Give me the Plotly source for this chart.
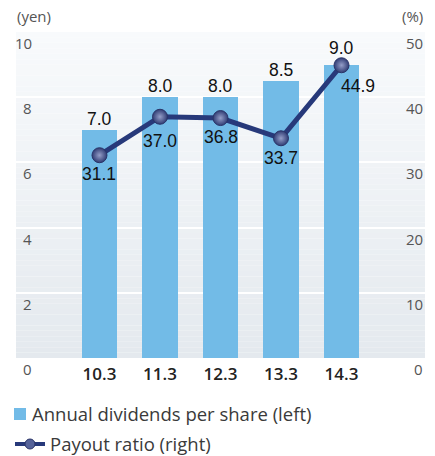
import plotly.graph_objects as go

# ---- data ----
categories = ["10.3", "11.3", "12.3", "13.3", "14.3"]
dividends = [7.0, 8.0, 8.0, 8.5, 9.0]          # yen (left axis)
payout = [31.1, 37.0, 36.8, 33.7, 44.9]        # % (right axis)
left_ticks = [0, 2, 4, 6, 8, 10]
right_ticks = [0, 10, 20, 30, 40, 50]
left_title = "(yen)"
right_title = "(%)"
legend_bar = "Annual dividends per share (left)"
legend_line = "Payout ratio (right)"

# ---- style ----
W, H = 435, 456
ML, MR, MT, MB = 16, 10, 32, 98
PW, PH = W - ML - MR, H - MT - MB
BAR_COLOR = "#72bbe7"
LINE_COLOR = "#27397a"
AXIS_FONT = dict(family="Open Sans", size=15, color="#555555")
LABEL_FONT = dict(family="Liberation Sans", size=17.5, color="#111111")

bar_label_dy = [11, 11, 11, 11, 17]
line_label_dy = [-19, -24, -19, -20, -21]
line_label_dx = [0, 0, 0, 0, 16]


def px_x(px):
    return (px - ML) / PW


def px_y(py):
    return (H - MB - py) / PH


fig = go.Figure()
fig.add_trace(go.Bar(
    x=categories, y=dividends, marker=dict(color=BAR_COLOR, line=dict(width=0)),
    width=0.58, yaxis="y", showlegend=False, hoverinfo="skip",
))
fig.add_trace(go.Scatter(
    x=categories, y=payout, yaxis="y2", mode="lines+markers",
    line=dict(color=LINE_COLOR, width=5),
    marker=dict(size=15, color="#303c74",
                gradient=dict(type="radial", color="#959ec8"),
                line=dict(color="#2a3468", width=1)),
    showlegend=False, hoverinfo="skip",
))

annotations = []
# data labels (x given as category index)
for i, (v, dy) in enumerate(zip(dividends, bar_label_dy)):
    annotations.append(dict(x=i, y=v, xref="x", yref="y", text=f"{v:.1f}",
                            showarrow=False, yanchor="middle", yshift=dy,
                            font=LABEL_FONT))
for i, (v, dy, dx) in enumerate(zip(payout, line_label_dy, line_label_dx)):
    annotations.append(dict(x=i, y=v, xref="x", yref="y2", text=f"{v:.1f}",
                            showarrow=False, yanchor="middle", yshift=dy,
                            xshift=dx, font=LABEL_FONT))
# axis tick labels (drawn inside the panel, below each gridline)
for t in left_ticks:
    annotations.append(dict(x=px_x(34), y=t, xref="paper", yref="y", text=str(t),
                            showarrow=False, xanchor="right", yanchor="middle",
                            yshift=-11, font=AXIS_FONT))
for t in right_ticks:
    annotations.append(dict(x=px_x(425), y=t, xref="paper", yref="y2", text=str(t),
                            showarrow=False, xanchor="right", yanchor="middle",
                            yshift=-11, font=AXIS_FONT))
annotations.append(dict(x=px_x(15), y=px_y(16), xref="paper", yref="paper",
                        text=left_title, showarrow=False, xanchor="left",
                        yanchor="middle", font=AXIS_FONT))
annotations.append(dict(x=px_x(425), y=px_y(16), xref="paper", yref="paper",
                        text=right_title, showarrow=False, xanchor="right",
                        yanchor="middle", font=AXIS_FONT))
# legend text
LEG_FONT = dict(family="Open Sans", size=18.5, color="#3a3a3a")
annotations.append(dict(x=px_x(30), y=px_y(414), xref="paper", yref="paper",
                        text=legend_bar, showarrow=False, xanchor="left",
                        yanchor="middle", font=LEG_FONT))
annotations.append(dict(x=px_x(48), y=px_y(443), xref="paper", yref="paper",
                        text=legend_line, showarrow=False, xanchor="left",
                        yanchor="middle", font=LEG_FONT))

shapes = []
# vertical gradient background
N = 60
top_c = (248, 250, 252)
bot_c = (228, 233, 238)
for i in range(N):
    f = (i + 0.5) / N
    col = tuple(round(top_c[k] + (bot_c[k] - top_c[k]) * f) for k in range(3))
    shapes.append(dict(type="rect", xref="paper", yref="paper",
                       x0=0, x1=1, y0=1 - (i + 1) / N, y1=1 - i / N,
                       fillcolor="rgb(%d,%d,%d)" % col, line=dict(width=0),
                       layer="below"))
# legend swatches
shapes.append(dict(type="rect", xref="paper", yref="paper",
                   x0=px_x(14), x1=px_x(26), y0=px_y(420), y1=px_y(408),
                   fillcolor=BAR_COLOR, line=dict(width=0)))
shapes.append(dict(type="line", xref="paper", yref="paper",
                   x0=px_x(15), x1=px_x(45), y0=px_y(444), y1=px_y(444),
                   line=dict(color=LINE_COLOR, width=4)))
shapes.append(dict(type="circle", xref="paper", yref="paper",
                   x0=px_x(25), x1=px_x(35), y0=px_y(449), y1=px_y(439),
                   fillcolor="#56639a", line=dict(color="#2a3468", width=1)))

fig.update_layout(
    width=W, height=H, margin=dict(l=ML, r=MR, t=MT, b=MB, pad=0),
    paper_bgcolor="white", plot_bgcolor="rgba(0,0,0,0)",
    showlegend=False, bargap=0,
    xaxis=dict(type="category", range=[-1.38, 5.38], showgrid=False,
               zeroline=False, showline=False, ticks="",
               tickfont=dict(family="Open Sans", size=17, color="#222222",
                             weight=600),
               ticklabelstandoff=4),
    yaxis=dict(range=[0, 10], dtick=2, showgrid=True, gridcolor="white",
               gridwidth=2, zeroline=False, showticklabels=False, ticks=""),
    yaxis2=dict(range=[0, 50], overlaying="y", side="right", showgrid=False,
                zeroline=False, showticklabels=False, ticks=""),
    annotations=annotations, shapes=shapes,
)

fig.write_html("out.html", config={"displayModeBar": False},
               post_script="document.body.style.margin='0px';")
